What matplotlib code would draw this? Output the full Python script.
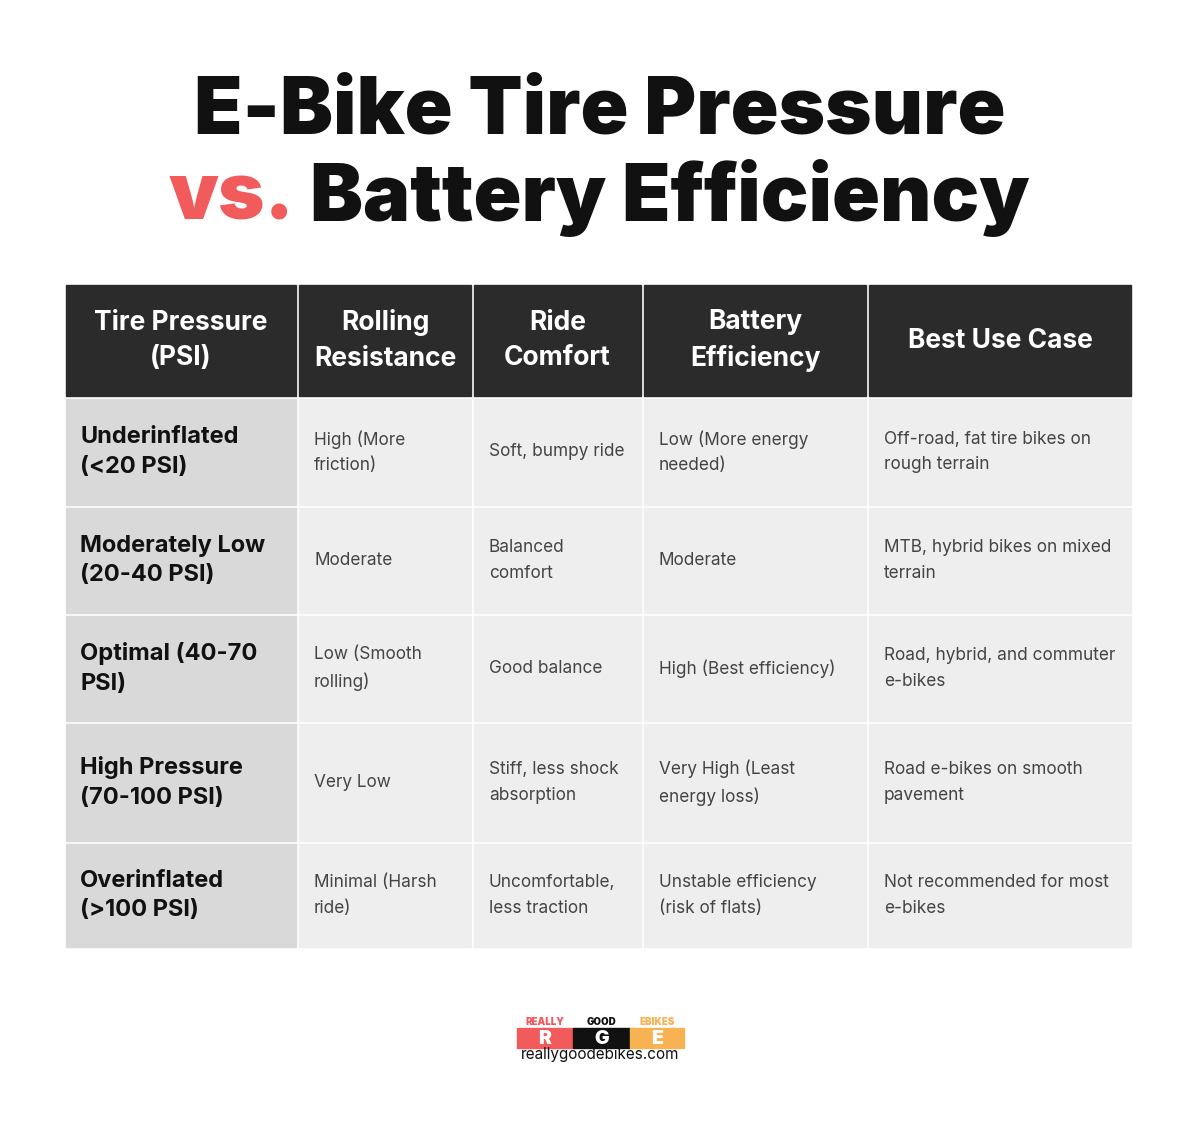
import matplotlib.pyplot as plt
from matplotlib.patches import Rectangle

headers = ["Tire Pressure\n(PSI)", "Rolling\nResistance", "Ride\nComfort", "Battery\nEfficiency", "Best Use Case"]
row_labels = ["Underinflated\n(<20 PSI)", "Moderately Low\n(20-40 PSI)", "Optimal (40-70\nPSI)",
              "High Pressure\n(70-100 PSI)", "Overinflated\n(>100 PSI)"]
rolling = ["High (More\nfriction)", "Moderate", "Low (Smooth\nrolling)", "Very Low", "Minimal (Harsh\nride)"]
comfort = ["Soft, bumpy ride", "Balanced\ncomfort", "Good balance", "Stiff, less shock\nabsorption",
           "Uncomfortable,\nless traction"]
battery = ["Low (More energy\nneeded)", "Moderate", "High (Best efficiency)", "Very High (Least\nenergy loss)",
           "Unstable efficiency\n(risk of flats)"]
use_case = ["Off-road, fat tire bikes on\nrough terrain", "MTB, hybrid bikes on mixed\nterrain",
            "Road, hybrid, and commuter\ne-bikes", "Road e-bikes on smooth\npavement",
            "Not recommended for most\ne-bikes"]

FONT = "Inter"
col_x = [66, 299, 474, 644, 869, 1134]
row_y = [285, 399, 508, 616, 724, 844, 950]
gap = 3

fig = plt.figure(figsize=(12, 11.25), dpi=100)
ax = fig.add_axes([0, 0, 1, 1])
ax.set_xlim(0, 1200)
ax.set_ylim(1125, 0)
ax.axis("off")

# title
ax.text(600, 112, "E-Bike Tire Pressure", ha="center", va="center", fontsize=57,
        fontweight="black", family=FONT, color="#111111")
ax.text(294, 198, "vs.", ha="right", va="center", fontsize=57, fontweight="black",
        family=FONT, color="#f25b5b")
ax.text(310, 198, "Battery Efficiency", ha="left", va="center", fontsize=57,
        fontweight="black", family=FONT, color="#111111")

# header
for j, h in enumerate(headers):
    x0, x1 = col_x[j], col_x[j + 1] - gap
    ax.add_patch(Rectangle((x0, row_y[0]), x1 - x0, row_y[1] - gap - row_y[0], color="#2b2b2b"))
    ax.text((x0 + x1) / 2, (row_y[0] + row_y[1] - gap) / 2, h, ha="center", va="center",
            fontsize=19, fontweight="bold", family=FONT, color="white", linespacing=1.45)

cols = [row_labels, rolling, comfort, battery, use_case]
for i in range(len(row_labels)):
    y0, y1 = row_y[i + 1], row_y[i + 2] - gap
    for j, col in enumerate(cols):
        x0, x1 = col_x[j], col_x[j + 1] - gap
        ax.add_patch(Rectangle((x0, y0), x1 - x0, y1 - y0,
                               color="#d9d9d9" if j == 0 else "#eeeeee"))
        if j == 0:
            ax.text(x0 + 14, (y0 + y1) / 2, col[i], ha="left", va="center", fontsize=17,
                    fontweight="bold", family=FONT, color="#111111", linespacing=1.45)
        else:
            ax.text(x0 + 15, (y0 + y1) / 2, col[i], ha="left", va="center", fontsize=12.4,
                    family=FONT, color="#444444", linespacing=1.65)

# logo
logo_words = ["REALLY", "GOOD", "EBIKES"]
logo_letters = ["R", "G", "E"]
logo_colors = ["#f25b5b", "#111111", "#f7b352"]
lx = [517, 573, 630, 684]
for k in range(3):
    ax.add_patch(Rectangle((lx[k], 1028), lx[k + 1] - lx[k], 20, color=logo_colors[k]))
    ax.text((lx[k] + lx[k + 1]) / 2, 1039, logo_letters[k], ha="center", va="center",
            fontsize=14, fontweight="black", family=FONT, color="white")
    ax.text((lx[k] + lx[k + 1]) / 2, 1022, logo_words[k], ha="center", va="center",
            fontsize=7, fontweight="black", family=FONT, color=logo_colors[k])
ax.text(600, 1055, "reallygoodebikes.com", ha="center", va="center", fontsize=11,
        family=FONT, color="#111111")

fig.savefig("out.png", dpi=100, facecolor="white")
